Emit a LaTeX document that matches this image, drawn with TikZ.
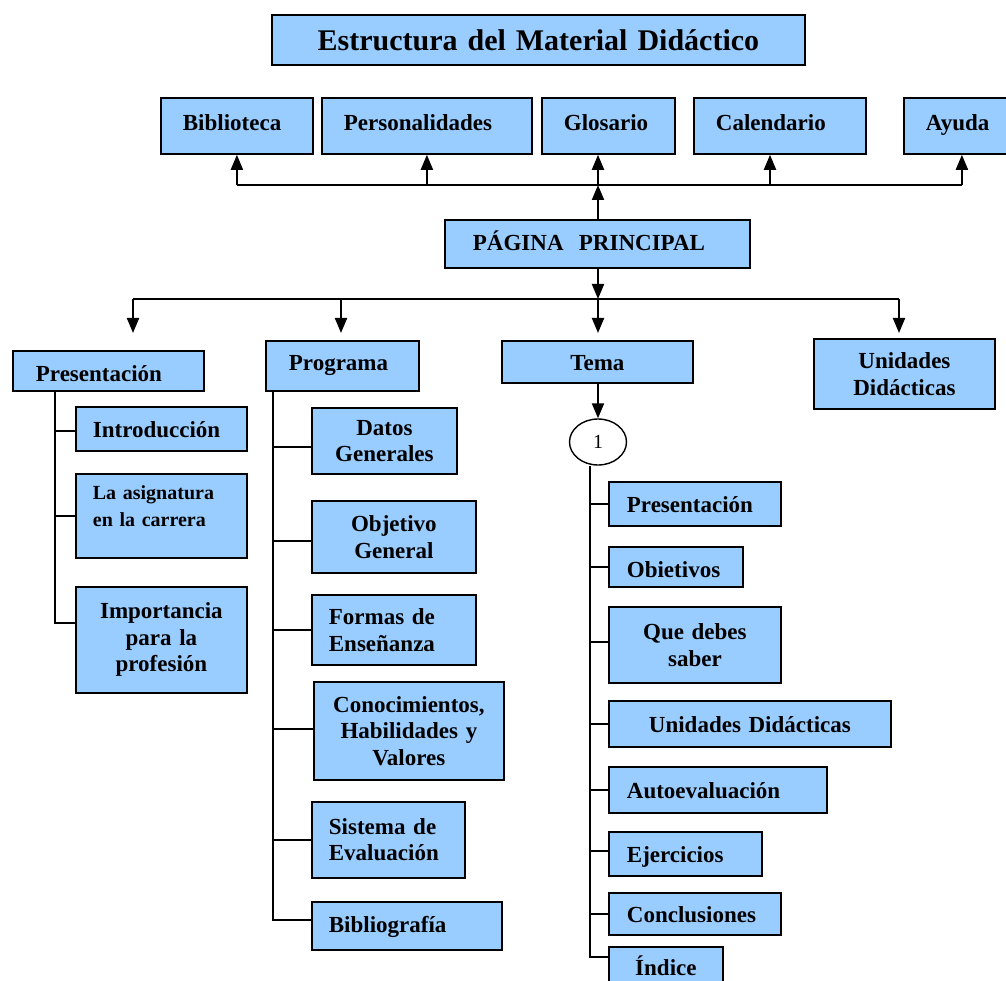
\documentclass[tikz,border=0pt]{standalone}
\usepackage{fontspec}
\setmainfont{Liberation Serif}
\usetikzlibrary{shapes.geometric,arrows.meta,calc}
\definecolor{boxblue}{HTML}{99CCFF}
\begin{document}
\begin{tikzpicture}[x=1pt,y=-1pt,
  box/.style={draw=black, fill=boxblue, line width=1.8pt, inner sep=0pt, anchor=north west,
              font=\fontsize{23}{26.5}\selectfont\bfseries},
  cbox/.style 2 args={box, text width=#1, minimum height=#2, align=center},
  lbox/.style n args={3}{box, text width=#1, minimum height=#2, align=left, inner xsep=#3},
  topline/.style={text height=16pt, text depth=7pt},
  midline/.style={text height=18pt, text depth=4pt},
  lowline/.style={text height=20pt, text depth=2pt},
  deepline/.style={text height=22pt, text depth=0pt},
  conn/.style={line width=2pt},
  arr/.style={line width=2pt, -{Triangle[length=15pt,width=12pt]}},
]
\useasboundingbox (0,0) rectangle (1006,981);
\clip (0,0) rectangle (1006,981);

% title
\node[cbox={533pt}{50pt}, font=\fontsize{30}{34}\selectfont\bfseries] (title) at (271,14) {Estructura del Material Didáctico};

% top row
\node[lbox={108pt}{56pt}{22pt}, topline] (bib) at (160,97) {Biblioteca};
\node[lbox={166pt}{56pt}{22pt}, topline] (per) at (321,97) {Personalidades};
\node[lbox={89pt}{56pt}{22pt}, topline]  (glo) at (541,97) {Glosario};
\node[lbox={128pt}{56pt}{22pt}, topline] (cal) at (693,97) {Calendario};
\node[lbox={72pt}{56pt}{22pt}, topline]  (ayu) at (903,97) {Ayuda};

% main page
\node[lbox={249pt}{48pt}{28pt}, midline] (pp) at (444,219) {PÁGINA\ \ PRINCIPAL};

% second row
\node[lbox={145pt}{40pt}{23pt}, deepline] (pres) at (12,350) {Presentación};
\node[lbox={107pt}{50pt}{23pt}, topline] (prog) at (265,340) {Programa};
\node[cbox={191pt}{42pt}, lowline] (tema) at (501,340) {Tema};
\node[cbox={181pt}{70pt}] (unid) at (813,338) {Unidades\\Didácticas};

% Presentacion children
\node[lbox={137pt}{44pt}{17pt}, lowline] (intro) at (75,406) {Introducción};
\node[lbox={137pt}{84pt}{17pt}, font=\fontsize{20}{27}\selectfont\bfseries] (asig) at (75,473)
  {\raisebox{3pt}[0pt][0pt]{\begin{tabular}{@{}l@{}}La asignatura\\en la carrera\end{tabular}}};
\node[cbox={171pt}{106pt}] (impo) at (75,586) {Importancia\\para la\\profesión};

% Programa children
\node[cbox={145pt}{66pt}] (dat) at (311,407) {Datos\\Generales};
\node[cbox={164pt}{72pt}] (obj) at (311,500) {Objetivo\\General};
\node[lbox={130pt}{70pt}{17pt}] (for) at (311,594) {Formas de\\Enseñanza};
\node[cbox={190pt}{98pt}] (con) at (313,681) {Conocimientos,\\Habilidades y\\Valores};
\node[lbox={119pt}{76pt}{17pt}] (sis) at (311,801) {Sistema de\\Evaluación};
\node[lbox={156pt}{48pt}{17pt}, midline] (bib2) at (311,901) {Bibliografía};

% Tema children
\node[lbox={136pt}{44pt}{18pt}, lowline] (tpres) at (608,481) {Presentación};
\node[lbox={98pt}{40pt}{18pt}, deepline]  (tobj) at (608,546) {Obietivos};
\node[cbox={172pt}{76pt}] (tque) at (608,606) {Que debes\\saber};
\node[cbox={282pt}{46pt}, lowline] (tuni) at (608,700) {Unidades Didácticas};
\node[lbox={182pt}{46pt}{18pt}, lowline] (taut) at (608,766) {Autoevaluación};
\node[lbox={117pt}{44pt}{18pt}, lowline] (teje) at (608,831) {Ejercicios};
\node[lbox={136pt}{42pt}{18pt}, lowline] (tcon) at (608,892) {Conclusiones};
\node[cbox={114pt}{40pt}, lowline] (tind) at (608,946) {Índice};

% top bus
\coordinate (tb) at (598,185);
\coordinate (calx) at (770,185);
\draw[conn] (tb -| bib.south) -- (tb -| ayu.south);
\draw[arr] (tb -| bib.south) -- (bib.south);
\draw[arr] (tb -| per.south) -- (per.south);
\draw[arr] (tb) -- (tb |- glo.south);
\draw[arr] (calx) -- (calx |- cal.south);
\draw[arr] (tb -| ayu.south) -- (ayu.south);
\draw[arr] (pp.north -| tb) -- (tb);

% lower bus
\coordinate (mb) at (598,299);
\coordinate (mbl) at (133,299);
\coordinate (mbr) at (899,299);
\coordinate (e1) at (133,333);
\coordinate (e2) at (341,333);
\coordinate (e3) at (598,333);
\coordinate (e4) at (899,333);
\draw[arr] (pp.south -| mb) -- (mb);
\draw[conn] (mbl) -- (mbr);
\draw[arr] (mbl) -- (e1);
\draw[arr] (e2 |- mb) -- (e2);
\draw[arr] (mb) -- (e3);
\draw[arr] (mbr) -- (e4);

% Presentacion tree
\coordinate (pvx) at (55,623);
\draw[conn] (pres.south -| pvx) -- (pvx) -- (pvx -| impo.west);
\draw[conn] ($(intro.west -| pvx)+(0,2)$) -- ($(intro.west)+(0,2)$);
\draw[conn] (asig.west -| pvx) -- (asig.west);

% Programa tree
\coordinate (gvx) at (273,920);
\draw[conn] (prog.south -| gvx) -- (gvx) -- (gvx -| bib2.west);
\foreach \n/\d in {dat/6,obj/4,for/0,con/-2,sis/0}
  \draw[conn] ($(\n.west -| gvx)+(0,\d)$) -- ($(\n.west)+(0,\d)$);

% Tema tree
\coordinate (tvx) at (590,957);
\node[ellipse, draw, line width=1.4pt, fill=white, minimum width=57pt, minimum height=46pt, inner sep=0pt,
      font=\fontsize{20}{24}\selectfont] (one) at (598,442) {1};
\draw[arr] (tema.south -| one.north) -- (one.north);
\draw[conn] (one.south -| tvx) -- (tvx) -- (tvx -| tind.west);
\foreach \n/\d in {tpres/0,tobj/0,tque/-3,tuni/0,taut/0,teje/-3,tcon/0}
  \draw[conn] ($(\n.west -| tvx)+(0,\d)$) -- ($(\n.west)+(0,\d)$);
\end{tikzpicture}
\end{document}
